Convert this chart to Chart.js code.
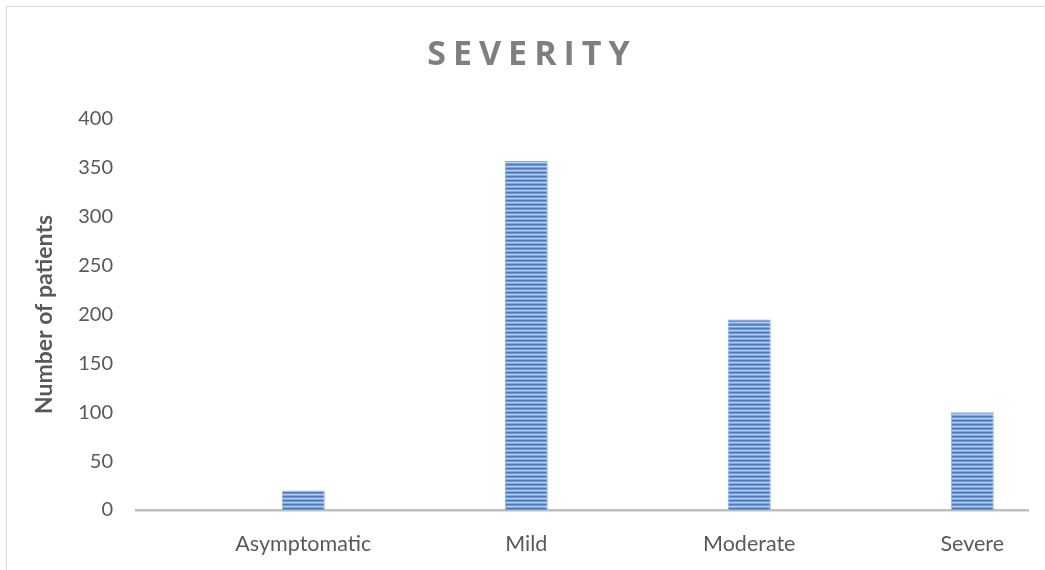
<!DOCTYPE html>
<html>
<head>
<meta charset="utf-8">
<script src="https://cdn.jsdelivr.net/npm/chart.js@4/dist/chart.umd.min.js"></script>
<style>
  html, body { margin: 0; padding: 0; background: #ffffff; overflow: hidden; }
  #frame { position: absolute; left: 6px; top: 6px; width: 1100px; height: 620px;
           border: 1px solid #d9d9d9; box-sizing: border-box; }
  #wrap { position: absolute; left: 0; top: 0; width: 1045px; height: 570px; }
</style>
</head>
<body>
<div id="frame"></div>
<div id="wrap"><canvas id="chart" width="1045" height="570"></canvas></div>
<script>
// Patient counts by disease severity
const chartTitle = 'SEVERITY';
const yAxisTitle = 'Number of patients';
const categories = ['Asymptomatic', 'Mild', 'Moderate', 'Severe'];
const patients = [20, 357, 195, 100];
const yMin = 0, yMax = 400, yStep = 50;

// Each bar sits in the right half of its category slot
const slotShift = 0.75;

// Horizontal striped fill for the bars
function stripePattern(ctx) {
  const c = document.createElement('canvas');
  c.width = 1; c.height = 4;
  const p = c.getContext('2d');
  const rows = ['#4a7cc3', '#6c96d3', '#b7cdec', '#82a6da'];
  rows.forEach((col, i) => { p.fillStyle = col; p.fillRect(0, i, 1, 1); });
  return ctx.createPattern(c, 'repeat');
}

const spacedTitle = {
  id: 'spacedTitle',
  afterDraw(chart) {
    const ctx = chart.ctx;
    ctx.save();
    ctx.font = 'bold 34px "Open Sans", Lato, sans-serif';
    ctx.letterSpacing = '7px';
    ctx.fillStyle = '#7f7f7f';
    ctx.textAlign = 'center';
    ctx.textBaseline = 'middle';
    ctx.fillText(chartTitle, 532, 55);
    ctx.restore();
  }
};

const ctx = document.getElementById('chart').getContext('2d');
const fill = stripePattern(ctx);

new Chart(ctx, {
  type: 'bar',
  data: {
    datasets: [{
      data: patients.map((v, i) => ({ x: i + slotShift, y: v })),
      backgroundColor: fill,
      borderColor: '#8fb0de',
      borderWidth: { left: 1, right: 1, top: 1, bottom: 0 },
      categoryPercentage: 1,
      barPercentage: 0.193
    }]
  },
  options: {
    responsive: false,
    animation: false,
    events: [],
    layout: { padding: { top: 119, right: 17, left: 0, bottom: 0 } },
    plugins: {
      legend: { display: false },
      title: { display: false },
      tooltip: { enabled: false }
    },
    scales: {
      x: {
        type: 'linear',
        offset: false,
        min: 0,
        max: categories.length,
        grid: { display: false, drawTicks: false, offset: false },
        border: { display: true, color: '#bfbfbf', width: 2.5 },
        afterBuildTicks(scale) {
          scale.ticks = categories.map((c, i) => ({ value: i + slotShift }));
        },
        afterFit(scale) { scale.height = 60; },
        ticks: {
          autoSkip: false,
          maxRotation: 0,
          padding: 21,
          color: '#595959',
          font: { family: 'Lato, "Open Sans", sans-serif', size: 21.5 },
          callback: (v, i) => categories[i]
        }
      },
      y: {
        min: yMin,
        max: yMax,
        grid: { display: false, drawTicks: false },
        border: { display: false },
        afterFit(scale) { scale.width = 136; },
        ticks: {
          stepSize: yStep,
          padding: 23,
          color: '#595959',
          font: { family: 'Lato, "Open Sans", sans-serif', size: 20 }
        },
        title: {
          display: true,
          text: yAxisTitle,
          color: '#595959',
          padding: { top: 31, bottom: 0 },
          font: { family: 'Lato, "Open Sans", sans-serif', size: 23, weight: 'bold' }
        }
      }
    }
  },
  plugins: [spacedTitle]
});
</script>
</body>
</html>
